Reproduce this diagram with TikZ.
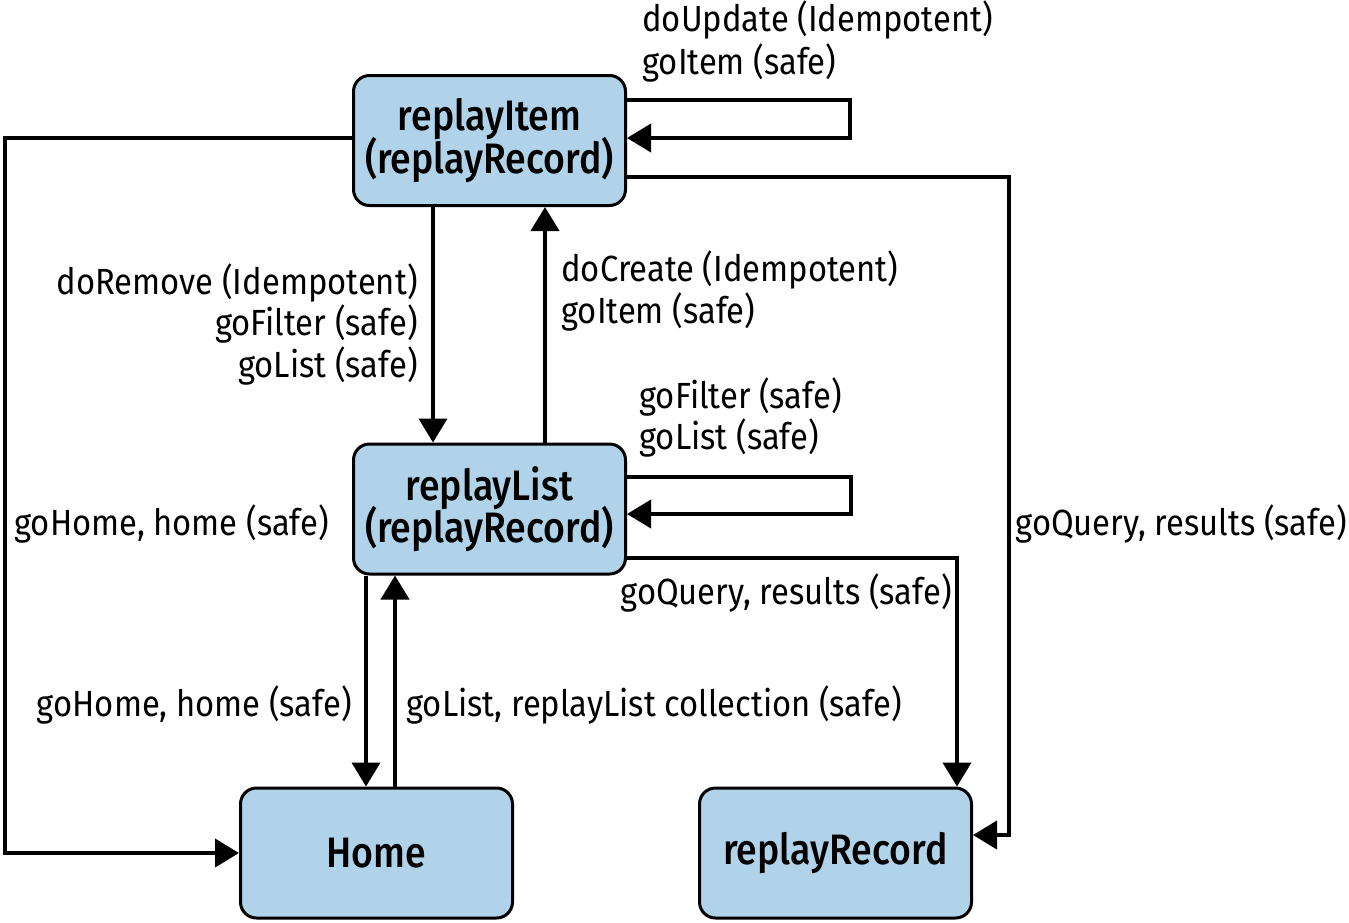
\documentclass[tikz,border=0pt]{standalone}
\usepackage{fontspec}
\setmainfont{Fira Sans}[FakeStretch=0.9]
\newfontfamily\boxfont{Fira Sans}[FakeStretch=0.88,UprightFont=* Medium]
\usetikzlibrary{arrows.meta}
\definecolor{boxblue}{HTML}{B0D3EA}
\tikzset{
  state/.style={draw=black, line width=1.5pt, fill=boxblue, rounded corners=8pt,
    minimum width=136pt, minimum height=65pt, align=center, inner sep=0pt,
    font=\boxfont\fontsize{21.3}{20}\selectfont},
  conn/.style={line width=2pt, -{Triangle[length=12pt,width=14pt]}},
  lab/.style={inner sep=0pt, font=\fontsize{18.2}{20}\selectfont}
}
\begin{document}
\begin{tikzpicture}[x=0.5pt,y=-0.5pt]
\useasboundingbox (0,0) rectangle (1349,922);
\node[state] (item) at (489.5,140.5) {replayItem\\[-2.5pt](replayRecord)};
\node[state] (list) at (489.5,509) {replayList\\[-2.5pt](replayRecord)};
\node[state] (home) at (376.5,853) {Home};
\node[state] (record) at (835.5,853) {replayRecord};
\coordinate (loopI) at (850,120);
\coordinate (loopL) at (851,495);
\coordinate (rightR) at (1009,500);
\coordinate (leftL) at (5,500);
% connectors
\draw[conn] ([yshift=20.25pt]item.east) -| (loopI) |- ([yshift=1.25pt]item.east);
\draw[conn] ([yshift=-18.25pt]item.east) -| (rightR) |- ([yshift=9pt]record.east);
\draw[conn] ([yshift=1.25pt]item.west) -| (leftL) |- (home.west);
\draw[conn] ([xshift=-28.25pt]item.south) -- ([xshift=-28.25pt]list.north);
\draw[conn] ([xshift=27.75pt]list.north) -- ([xshift=27.75pt]item.south);
\draw[conn] ([yshift=16pt]list.east) -| (loopL) |- ([yshift=-2.5pt]list.east);
\draw[conn] ([yshift=-24.5pt]list.east) -| ([xshift=60.75pt]record.north);
\draw[conn] ([xshift=-61.75pt]list.south) -- ([xshift=-5.25pt]home.north);
\draw[conn] ([xshift=9.25pt]home.north) -- ([xshift=-47.25pt]list.south);
% labels
\node[lab, anchor=base west] (u1) at (642,31) {doUpdate (Idempotent)};
\node[lab, anchor=base west] (u2) at (642,74) {goItem (safe)};
\node[lab, anchor=base east] (r1) at (418,294) {doRemove (Idempotent)};
\node[lab, anchor=base east] (r2) at (418,335) {goFilter (safe)};
\node[lab, anchor=base east] (r3) at (418,377) {goList (safe)};
\node[lab, anchor=base west] (c1) at (561,281) {doCreate (Idempotent)};
\node[lab, anchor=base west] (c2) at (561,323) {goItem (safe)};
\node[lab, anchor=base west] (f1) at (639,408) {goFilter (safe)};
\node[lab, anchor=base west] (f2) at (639,449) {goList (safe)};
\node[lab, anchor=base west] (h1) at (14,535) {goHome, home (safe)};
\node[lab, anchor=base east] (q1) at (1347,535) {goQuery, results (safe)};
\node[lab, anchor=base east] (q2) at (952,604) {goQuery, results (safe)};
\node[lab, anchor=base east] (h2) at (352,716) {goHome, home (safe)};
\node[lab, anchor=base west] (g1) at (406,716) {goList, replayList collection (safe)};
\end{tikzpicture}
\end{document}
